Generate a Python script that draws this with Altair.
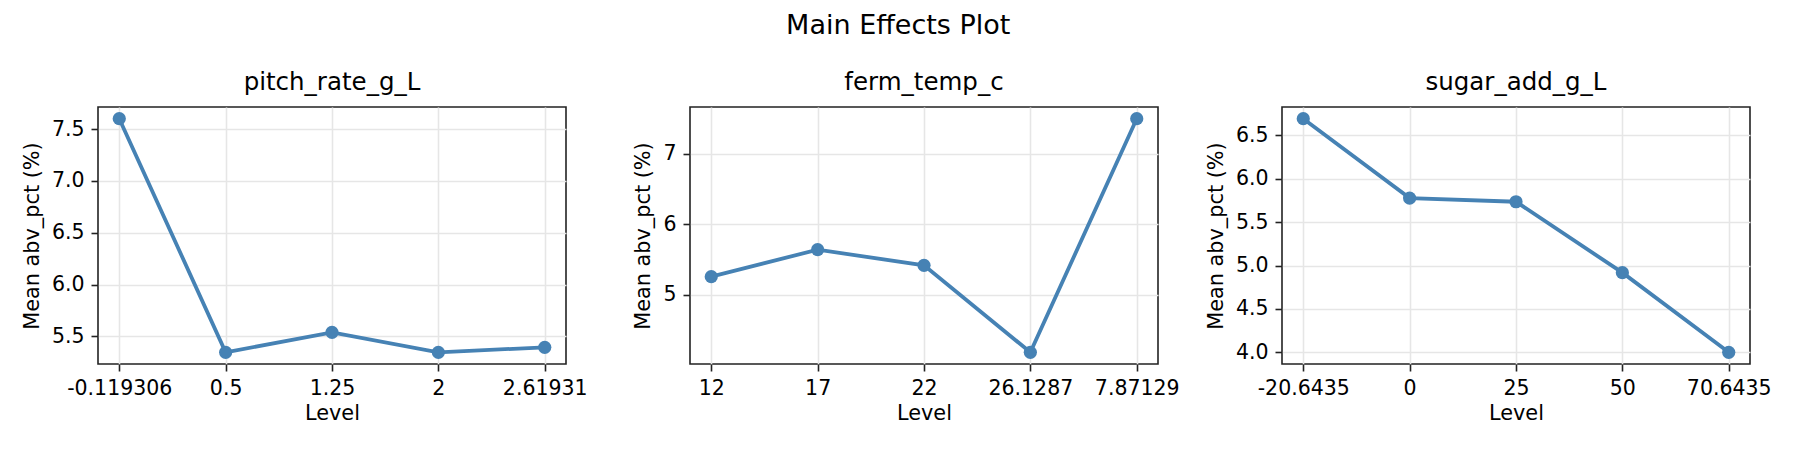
import altair as alt
import pandas as pd

# ---- data ----
factors = ["pitch_rate_g_L", "ferm_temp_c", "sugar_add_g_L"]

pitch_levels = ["-0.119306", "0.5", "1.25", "2", "2.61931"]
pitch_means = [7.60, 5.346, 5.539, 5.346, 5.394]

ferm_levels = ["12", "17", "22", "26.1287", "7.87129"]
ferm_means = [5.26, 5.643, 5.42, 4.187, 7.50]

sugar_levels = ["-20.6435", "0", "25", "50", "70.6435"]
sugar_means = [6.692, 5.777, 5.735, 4.918, 4.00]

pitch_ticks = [5.5, 6.0, 6.5, 7.0, 7.5]
ferm_ticks = [5, 6, 7]
sugar_ticks = [4.0, 4.5, 5.0, 5.5, 6.0, 6.5]

LINE_COLOR = "#4682b4"
FONT = "DejaVu Sans"


def panel(name, levels, means, ticks, fmt):
    df = pd.DataFrame({"level": levels, "mean": means})
    lo, hi = min(means), max(means)
    m = 0.05 * (hi - lo)
    x = alt.X(
        "level:N",
        sort=levels,
        title="Level",
        scale=alt.Scale(type="point", padding=0.2),
        axis=alt.Axis(labelAngle=0, grid=True, labelOverlap=False, titlePadding=5),
    )
    y = alt.Y(
        "mean:Q",
        title="Mean abv_pct (%)",
        scale=alt.Scale(domain=[lo - m, hi + m], nice=False, zero=False),
        axis=alt.Axis(values=ticks, format=fmt, labelFlush=False, labelOverlap=False,
                      titlePadding=9),
    )
    base = alt.Chart(df)
    line = base.mark_line(color=LINE_COLOR, strokeWidth=3.8).encode(x=x, y=y)
    pts = base.mark_point(filled=True, size=175, opacity=1, color=LINE_COLOR).encode(x=x, y=y)
    return (line + pts).properties(
        width=468,
        height=257,
        title=alt.TitleParams(name, fontSize=24.5, font=FONT, fontWeight="normal",
                              color="black", baseline="alphabetic", offset=-7,
                              anchor="middle"),
    )


p1 = panel(factors[0], pitch_levels, pitch_means, pitch_ticks, ".1f")
p2 = panel(factors[1], ferm_levels, ferm_means, ferm_ticks, "d")
p3 = panel(factors[2], sugar_levels, sugar_means, sugar_ticks, ".1f")

chart = (
    alt.hconcat(p1, p2, p3, spacing=124, bounds="flush")
    .properties(
        title=alt.TitleParams("Main Effects Plot", fontSize=27, font=FONT,
                              fontWeight="normal", color="black", anchor="middle",
                              baseline="alphabetic", offset=8, dx=2),
        padding={"left": 12, "top": 3, "right": 5, "bottom": 5},
        background="white",
    )
    .configure(font=FONT)
    .configure_view(stroke="#222222", strokeWidth=1.6)
    .configure_axis(
        labelFont=FONT, labelFontSize=20.5, labelColor="black",
        titleFont=FONT, titleFontSize=20.8, titleFontWeight="normal", titleColor="black",
        tickColor="#222222", tickWidth=1.6, tickSize=7, labelPadding=7,
        domain=False, gridColor="#e6e6e6", gridWidth=1.6,
    )
)

chart.save("out.html", embed_options={"renderer": "svg", "actions": False})
